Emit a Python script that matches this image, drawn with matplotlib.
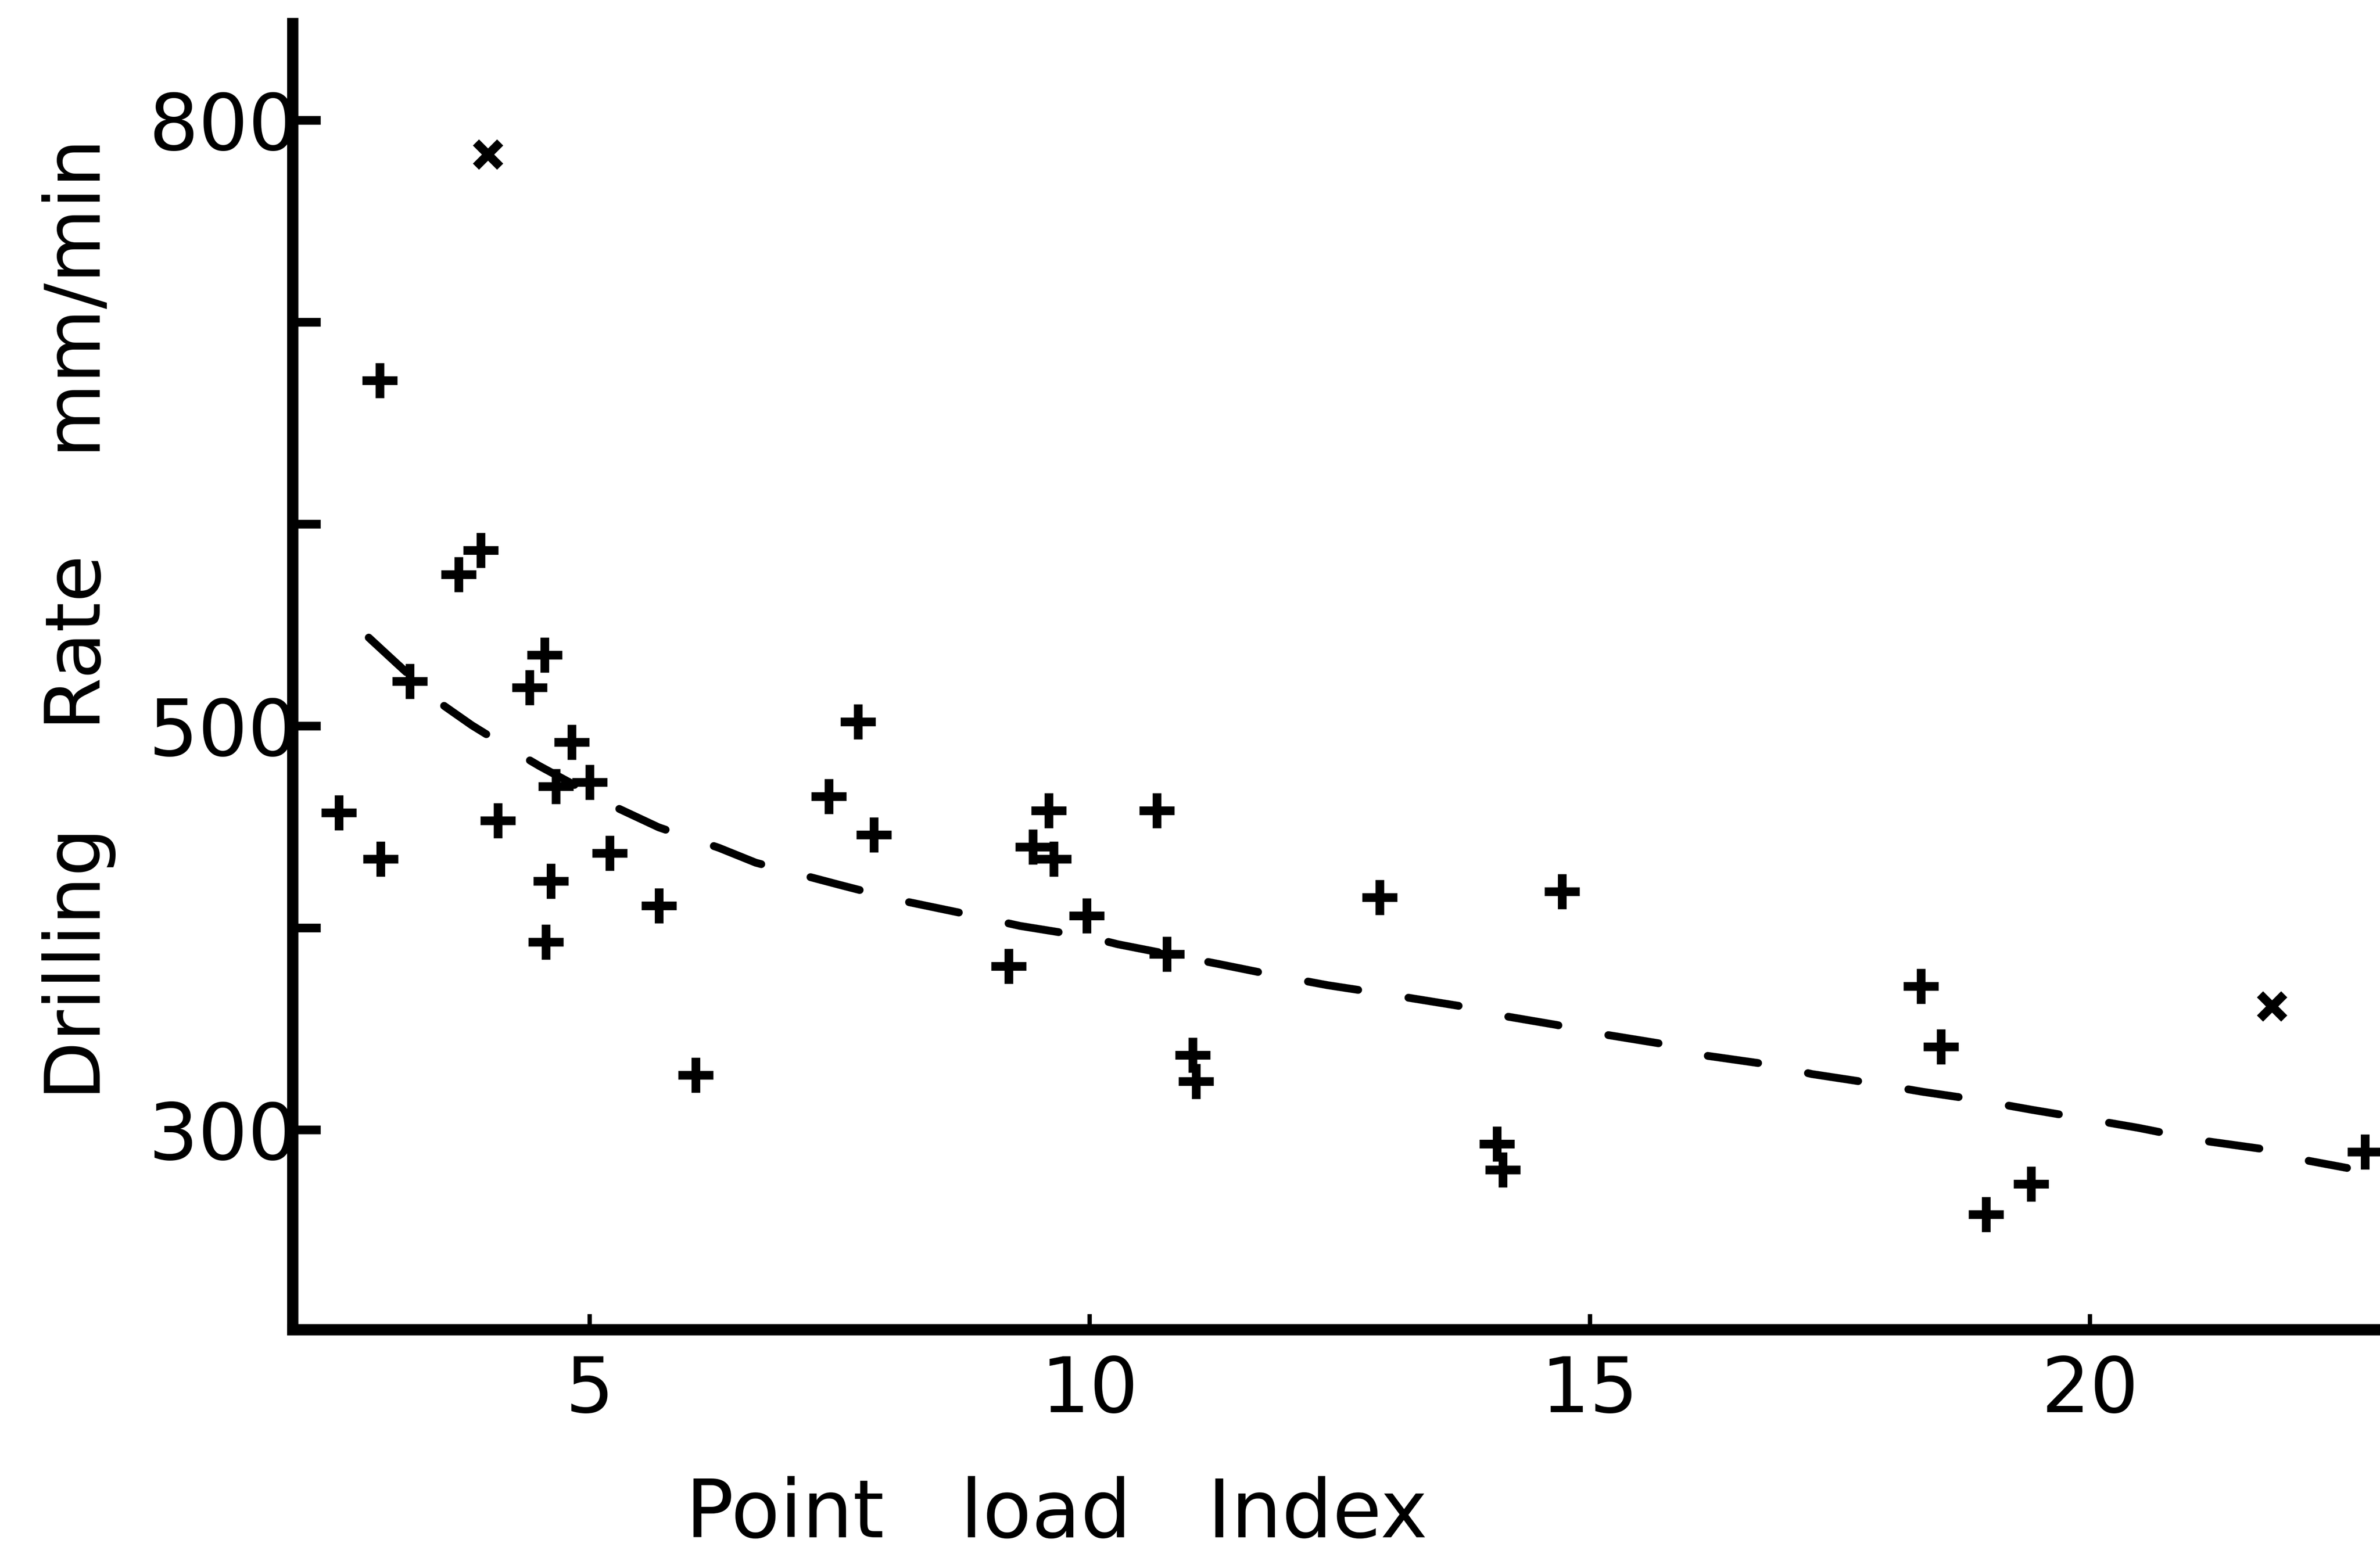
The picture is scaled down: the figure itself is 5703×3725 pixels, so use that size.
import numpy as np
import matplotlib.pyplot as plt

# scattered measurements (point load index, drilling rate mm/min)
pl_index = [2.90, 3.91, 3.69, 3.20, 4.55, 4.40, 4.82, 4.66, 5.00, 2.49,
            4.08, 2.91, 5.20, 4.61, 5.69, 4.56, 6.06, 7.68, 7.39, 7.84,
            9.59, 10.67, 9.43, 9.64, 9.97, 9.19, 10.77, 11.03, 11.06, 12.90,
            14.72, 14.07, 14.13, 18.31, 18.51, 19.41, 18.96, 22.75]
drill_rate = [671, 587, 575, 522, 535, 519, 492, 470, 472, 457,
              453, 434, 437, 423, 411, 393, 327, 502, 465, 446,
              458, 458, 440, 434, 406, 381, 387, 337, 324, 415,
              418, 293, 280, 371, 341, 273, 258, 289]

# the two points drawn as slanted crosses
pl_index_x = [3.98, 21.82]
drill_rate_x = [783, 361]

# fitted trend
fit_x = [2.79, 3.07, 3.50, 3.82, 4.18, 4.50, 5.25, 5.69, 6.29, 6.66, 7.50, 8.08,
         8.80, 9.30, 9.99, 10.28, 11.29, 11.89, 12.38, 13.00, 13.70, 14.09,
         14.66, 15.16, 15.78, 16.18, 16.82, 17.22, 17.83, 18.33, 18.81, 19.42,
         20.00, 20.48, 21.13, 21.71, 22.19, 22.57]
fit_y = [543.7, 530.9, 511.4, 500.3, 489.3, 480.0, 459.9, 449.7, 439.6, 432.2, 421.2, 413.8,
         406.4, 400.9, 395.4, 391.8, 382.0, 376.0, 371.5, 366.8, 361.2, 356.7,
         351.9, 347.0, 342.0, 336.5, 332.0, 327.5, 322.9, 318.7, 315.2, 309.8,
         305.0, 300.9, 294.5, 290.5, 284.5, 281.0]

y_ticks = [300, 400, 500, 600, 700, 800]
y_labels = ["300", "", "500", "", "", "800"]
x_ticks = [5, 10, 15, 20]

plt.rcParams['font.family'] = ['DejaVu Sans']

fig = plt.figure(figsize=(19.01, 12.4167), dpi=300)
ax = fig.add_axes([0.123, 0.1445, 0.877, 0.8405])

ax.plot(fit_x, fit_y, color="black", lw=4.5, linestyle=(0, (6.5, 6.5)),
        dash_capstyle="round")
ax.plot(pl_index, drill_rate, linestyle="none", marker="+", ms=20, mew=5,
        color="black")
ax.plot(pl_index_x, drill_rate_x, linestyle="none", marker="x", ms=14, mew=5,
        color="black")

ax.set_xlim(2.03, 22.9)
ax.set_ylim(201, 848)

ax.spines["top"].set_visible(False)
ax.spines["right"].set_visible(False)
ax.spines["left"].set_linewidth(6.5)
ax.spines["bottom"].set_linewidth(6.5)

ax.set_yticks(y_ticks)
ax.set_yticklabels(y_labels)
ax.set_xticks(x_ticks)
ax.tick_params(axis="y", direction="in", length=16, width=5, pad=-3, labelsize=45)
ax.tick_params(axis="x", direction="in", length=9, width=2.5, pad=14, labelsize=44)

ax.set_xlabel("Point   load   Index", fontsize=46)
ax.xaxis.set_label_coords(0.366, -0.142)
ax.xaxis.label.set_va("center")
ax.set_ylabel("Drilling    Rate    mm/min", fontsize=44)
ax.yaxis.set_label_coords(-0.1025, 0.5436)
ax.yaxis.label.set_va("center")

fig.savefig("out.png", dpi=300)
